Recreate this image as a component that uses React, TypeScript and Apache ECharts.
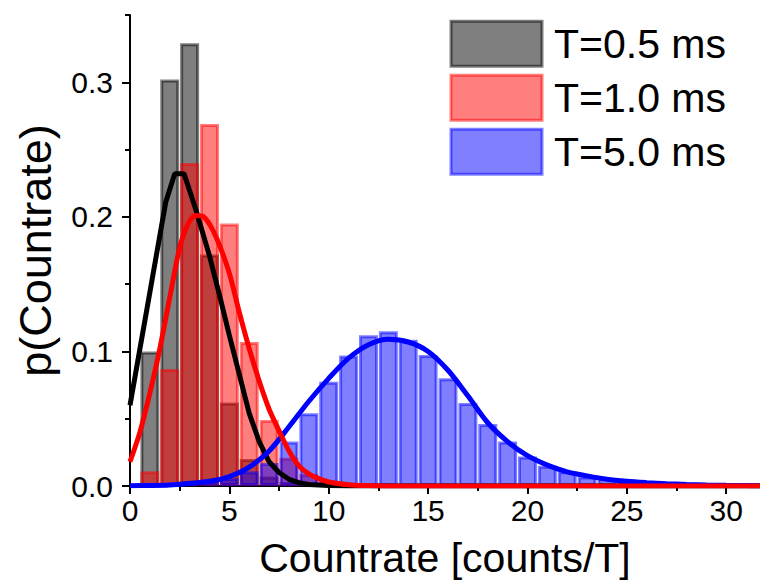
import React, { useEffect, useRef } from "react";
import * as echarts from "echarts";

// Histogram bins (counts per T) and probabilities
const binsBlack = [1, 2, 3, 4, 5, 6, 7, 8];
const pBlack = [0.1, 0.302, 0.329, 0.172, 0.062, 0.02, 0.007, 0.003];

const binsRed = [1, 2, 3, 4, 5, 6, 7, 8, 9, 10, 11];
const pRed = [0.011, 0.087, 0.24, 0.269, 0.195, 0.107, 0.049, 0.021, 0.009, 0.004, 0.002];

const binsBlue = [3, 4, 5, 6, 7, 8, 9, 10, 11, 12, 13, 14, 15, 16, 17, 18, 19, 20, 21, 22, 23, 24, 25, 26, 27, 28, 29, 30, 31];
const pBlue = [0.002, 0.003, 0.006, 0.011, 0.017, 0.033, 0.054, 0.0775, 0.097, 0.112, 0.115, 0.1087, 0.0973, 0.08, 0.0616, 0.046, 0.033, 0.022, 0.015, 0.011, 0.007, 0.0058, 0.0045, 0.0036, 0.003, 0.0025, 0.002, 0.002, 0.002];

// Fit curves
const fitXBlack = [0, 0.5, 1, 1.5, 1.8, 2.25, 2.72, 3.3, 3.5, 4, 4.5, 5, 5.5, 6, 6.5, 7, 7.5, 8, 8.5, 9, 10, 11, 31.7];
const fitYBlack = [0.06, 0.102, 0.144, 0.186, 0.211, 0.232, 0.232, 0.206, 0.196, 0.171, 0.142, 0.112, 0.083, 0.054, 0.033, 0.018, 0.01, 0.005, 0.0025, 0.0012, 0.0003, 0, 0];

const fitXRed = [0, 0.5, 1, 1.5, 2, 2.5, 2.9, 3.3, 3.7, 4.1, 4.5, 5, 5.5, 6, 6.5, 7, 7.5, 8, 8.5, 9, 9.5, 10, 11, 12, 13, 31.7];
const fitYRed = [0.018, 0.04, 0.069, 0.102, 0.14, 0.177, 0.194, 0.201, 0.2, 0.192, 0.179, 0.158, 0.129, 0.102, 0.078, 0.057, 0.041, 0.026, 0.015, 0.009, 0.0055, 0.003, 0.001, 0.0003, 0, 0];

const fitXBlue = [0, 1, 2, 3, 4, 5, 6, 7, 8, 9, 10, 11, 12, 13, 14, 15, 16, 17, 18, 19, 20, 21, 22, 23, 24, 25, 26, 27, 28, 29, 30, 31, 31.7];
const fitYBlue = [0.0002, 0.0004, 0.0008, 0.002, 0.0035, 0.007, 0.014, 0.026, 0.044, 0.063, 0.08, 0.095, 0.105, 0.109, 0.107, 0.1, 0.086, 0.067, 0.047, 0.033, 0.0225, 0.0155, 0.0105, 0.0075, 0.005, 0.0035, 0.0025, 0.0017, 0.0012, 0.0008, 0.0005, 0.0003, 0.0002];

const xMajorTicks = [0, 5, 10, 15, 20, 25, 30];
const xMinorTicks = [2.5, 7.5, 12.5, 17.5, 22.5, 27.5];
const yMajorTicks = [0, 0.1, 0.2, 0.3];
const yMinorTicks = [0.05, 0.15, 0.25, 0.35];

const seriesNames = ["T=0.5 ms", "T=1.0 ms", "T=5.0 ms"];

const FONT = "'Liberation Sans', Arial, sans-serif";

const zip = (xs: number[], ys: number[]) => xs.map((x, i) => [x, ys[i]]);

export default function App() {
  const ref = useRef<HTMLDivElement>(null);

  useEffect(() => {
    if (!ref.current) return;
    const chart = echarts.init(ref.current, null, { renderer: "svg" });

    const barStyle = (rgb: string) => ({
      color: `rgba(${rgb},0.5)`,
      borderColor: `rgba(${rgb},0.5)`,
      borderWidth: 3,
    });

    const option: any = {
      animation: false,
      backgroundColor: "#ffffff",
      grid: { left: 130, right: 0, top: 15, bottom: 96, containLabel: false },
      legend: {
        orient: "vertical",
        left: 449.5,
        top: 19.8,
        padding: 0,
        itemWidth: 91,
        itemHeight: 45,
        itemGap: 6,
        icon: "rect",
        data: seriesNames,
        itemStyle: { borderWidth: 3 },
        textStyle: { fontSize: 41, color: "#000", fontFamily: FONT, padding: [0, 0, 0, 7] },
        selectedMode: false,
      },
      xAxis: [
        {
          type: "value",
          min: 0,
          max: 31.7,
          interval: 5,
          position: "bottom",
          name: "Countrate [counts/T]",
          nameLocation: "middle",
          nameGap: 51,
          nameTextStyle: { fontSize: 41, color: "#000", fontFamily: FONT },
          axisLine: { show: true, lineStyle: { color: "#000", width: 2 } },
          axisTick: { show: true, length: 8, lineStyle: { color: "#000", width: 2 }, customValues: xMajorTicks },
          axisLabel: { fontSize: 30, color: "#000", fontFamily: FONT, margin: 9, customValues: xMajorTicks },
          splitLine: { show: false },
        },
        {
          type: "value",
          min: 0,
          max: 31.7,
          interval: 5,
          position: "bottom",
          offset: 0,
          axisLine: { show: false },
          axisTick: { show: true, length: 5, lineStyle: { color: "#000", width: 2 }, customValues: xMinorTicks },
          axisLabel: { show: false },
          splitLine: { show: false },
        },
      ],
      yAxis: [
        {
          type: "value",
          min: 0,
          max: 0.35,
          interval: 0.1,
          position: "left",
          name: "p(Countrate)",
          nameLocation: "middle",
          nameGap: 72,
          nameTextStyle: { fontSize: 45, color: "#000", fontFamily: FONT },
          axisLine: { show: true, lineStyle: { color: "#000", width: 2 } },
          axisTick: { show: true, length: 8, lineStyle: { color: "#000", width: 2 }, customValues: yMajorTicks },
          axisLabel: {
            fontSize: 30,
            color: "#000",
            fontFamily: FONT,
            margin: 17,
            customValues: yMajorTicks,
            formatter: (v: number) => v.toFixed(1),
          },
          splitLine: { show: false },
        },
        {
          type: "value",
          min: 0,
          max: 0.35,
          interval: 0.1,
          position: "left",
          offset: 0,
          axisLine: { show: false },
          axisTick: { show: true, length: 5, lineStyle: { color: "#000", width: 2 }, customValues: yMinorTicks },
          axisLabel: { show: false },
          splitLine: { show: false },
        },
      ],
      series: [
        {
          name: seriesNames[0],
          type: "bar",
          xAxisIndex: 0,
          yAxisIndex: 0,
          barWidth: 19,
          barGap: "-100%",
          itemStyle: barStyle("0,0,0"),
          data: zip(binsBlack, pBlack),
        },
        {
          name: seriesNames[1],
          type: "bar",
          xAxisIndex: 0,
          yAxisIndex: 0,
          barWidth: 19,
          barGap: "-100%",
          itemStyle: barStyle("255,0,0"),
          data: zip(binsRed, pRed),
        },
        {
          name: seriesNames[2],
          type: "bar",
          xAxisIndex: 0,
          yAxisIndex: 0,
          barWidth: 19,
          barGap: "-100%",
          itemStyle: barStyle("0,0,255"),
          data: zip(binsBlue, pBlue),
        },
        {
          name: "fit 0.5",
          type: "line",
          showSymbol: false,
          smooth: false,
          lineStyle: { color: "#000000", width: 5 },
          itemStyle: { color: "#000000" },
          data: zip(fitXBlack, fitYBlack),
        },
        {
          name: "fit 5.0",
          type: "line",
          showSymbol: false,
          smooth: 0.3,
          lineStyle: { color: "#0000ff", width: 5 },
          itemStyle: { color: "#0000ff" },
          data: zip(fitXBlue, fitYBlue),
        },
        {
          name: "fit 1.0",
          type: "line",
          showSymbol: false,
          smooth: 0.3,
          lineStyle: { color: "#ff0000", width: 5 },
          itemStyle: { color: "#ff0000" },
          data: zip(fitXRed, fitYRed),
        },
      ],
    };

    chart.setOption(option);
    return () => {
      chart.dispose();
    };
  }, []);

  return (
    <div
      ref={ref}
      style={{ position: "fixed", left: 0, top: 0, width: 760, height: 583, background: "#fff" }}
    />
  );
}
